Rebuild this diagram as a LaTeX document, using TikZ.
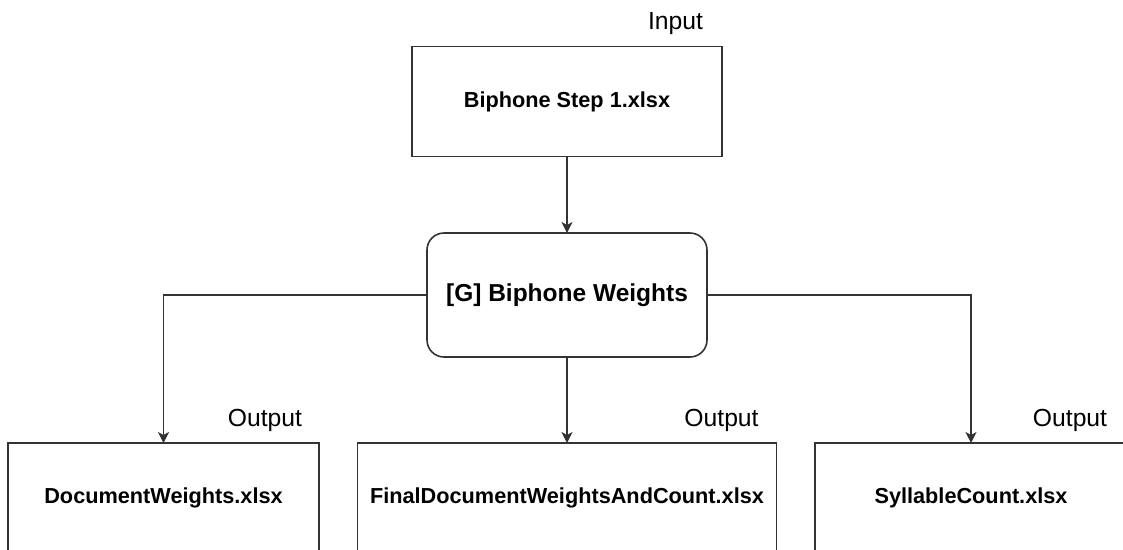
\documentclass[tikz,border=0pt]{standalone}
\usepackage{fontspec}
\setmainfont{Liberation Sans}
\usetikzlibrary{arrows.meta}
\definecolor{edge}{HTML}{333333}
\tikzset{
  filebox/.style={draw=edge, line width=1.6pt, fill=white, rectangle,
    inner sep=0pt, outer sep=0pt, minimum height=110pt,
    font=\fontsize{21.7}{26}\selectfont\bfseries},
  procbox/.style={draw=edge, line width=1.6pt, fill=white, rectangle,
    rounded corners=17pt, inner sep=0pt, outer sep=0pt,
    minimum width=280pt, minimum height=124pt,
    font=\fontsize{24.5}{29}\selectfont\bfseries},
  tag/.style={inner sep=0pt, font=\fontsize{24.7}{29}\selectfont},
  link/.style={draw=edge, line width=1.5pt, -{Stealth[length=11pt, width=11pt, inset=3pt]}},
}
\begin{document}
\begin{tikzpicture}[x=1pt, y=1pt]
  \useasboundingbox (0,0) rectangle (1123,-549);
  \clip (0,0) rectangle (1123,-549);

  % input file and processing step
  \node[filebox, minimum width=310pt] (input) at (567,-101.5) {Biphone Step 1.xlsx};
  \node[tag] (inlabel) at (675.5,-24) {Input};
  \node[procbox] (weights) at (567,-295) {[G] Biphone Weights};

  % output files
  \node[filebox, minimum width=311pt] (docw) at (163.5,-498) {DocumentWeights.xlsx};
  \node[filebox, minimum width=419pt] (final) at (567,-498) {FinalDocumentWeightsAndCount.xlsx};
  \node[filebox, minimum width=312pt] (syll) at (971,-498) {SyllableCount.xlsx};

  \node[tag] (outA) at (265,-420) {Output};
  \node[tag] (outB) at (721.5,-420) {Output};
  \node[tag] (outC) at (1070,-420) {Output};

  % connectors
  \draw[link] (input.south) -- (weights.north);
  \draw[link] (weights.west) -| (docw.north);
  \draw[link] (weights.south) -- (final.north);
  \draw[link] (weights.east) -| (syll.north);
\end{tikzpicture}
\end{document}
